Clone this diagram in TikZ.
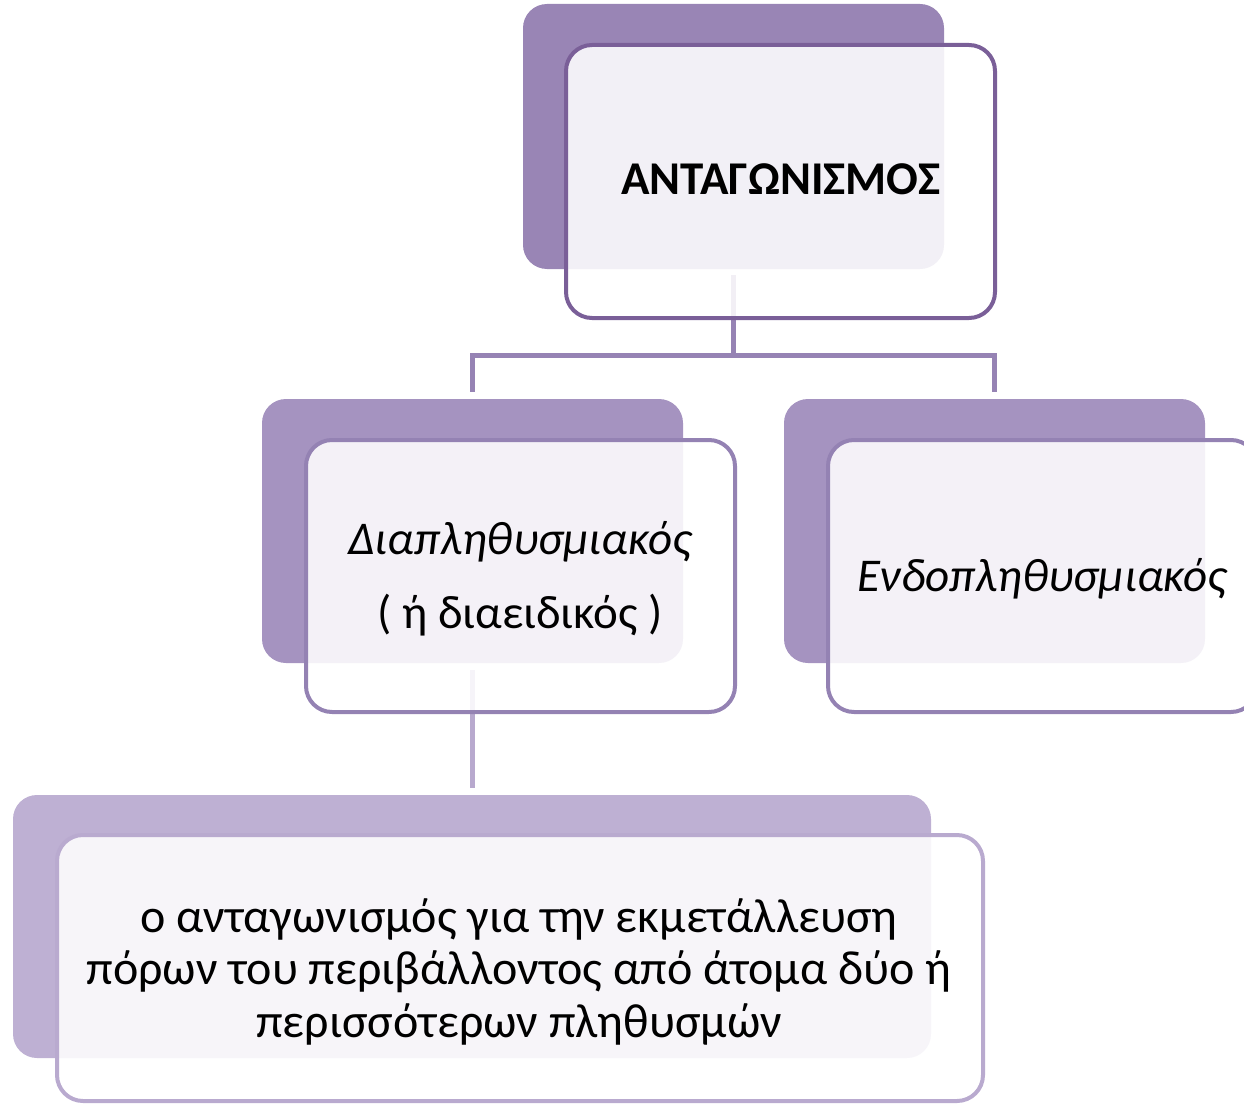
\documentclass[tikz,border=0pt]{standalone}
\usepackage{fontspec}
\setmainfont{Carlito}
\usetikzlibrary{calc}
\definecolor{backA}{HTML}{9985B5}
\definecolor{backB}{HTML}{A593C0}
\definecolor{backC}{HTML}{BEB0D3}
\definecolor{edgeA}{HTML}{7A5F98}
\definecolor{edgeB}{HTML}{9482B3}
\definecolor{edgeC}{HTML}{B9AACF}
\definecolor{connA}{HTML}{9683B4}
\definecolor{connC}{HTML}{B8A9CE}
\tikzset{
  backbox/.style={rectangle, rounded corners=24pt, inner sep=0pt, draw=none},
  frontbox/.style={rectangle, rounded corners=26pt, inner sep=0pt, fill=white, fill opacity=0.88, line width=4pt},
  conn/.style={line width=5pt},
  lbl/.style={inner sep=0pt, anchor=base, text=black},
}
\begin{document}
\begin{tikzpicture}[x=1pt,y=-1pt]
\clip (0,0) rectangle (1244,1105);
\useasboundingbox (0,0) rectangle (1244,1105);
% back boxes
\node[backbox, fill=backA, minimum width=421pt, minimum height=265pt] (topback) at (733.5,136.5) {};
\node[backbox, fill=backB, minimum width=421pt, minimum height=264pt] (lback) at (472.5,531) {};
\node[backbox, fill=backB, minimum width=421pt, minimum height=264pt] (rback) at (994.5,531) {};
\node[backbox, fill=backC, minimum width=918pt, minimum height=263pt] (bback) at (472,926.5) {};
% connectors
\coordinate (bus) at (733.5,355);
\draw[conn, draw=connA] ([yshift=-6pt]topback.south) -- (bus);
\draw[conn, draw=connA] ([yshift=7pt]lback.north) |- (bus) -| ([yshift=7pt]rback.north);
\draw[conn, draw=connC] ([yshift=-7pt]lback.south) -- ([yshift=7pt]lback.south |- bback.north);
% front boxes
\node[frontbox, draw=edgeA, minimum width=429pt, minimum height=273pt] (topfront) at (780.5,181.5) {};
\node[frontbox, draw=edgeB, minimum width=429pt, minimum height=272pt] (lfront) at (520.5,576) {};
\node[frontbox, draw=edgeB, minimum width=429pt, minimum height=272pt] (rfront) at (1042.5,576) {};
\node[frontbox, draw=edgeC, minimum width=926pt, minimum height=266pt] (bfront) at (520,968) {};
% texts
\node[lbl] (t0) at (781,194) {\fontsize{47}{56}\selectfont\bfseries ΑΝΤΑΓΩΝΙΣΜΟΣ};
\node[lbl] (t1) at (520,554) {\fontsize{47}{56}\selectfont\itshape Διαπληθυσμιακός};
\node[lbl] (t2) at (520,628) {\fontsize{47}{56}\selectfont ( ή διαειδικός )};
\node[lbl] (t3) at (1042,591) {\fontsize{47}{56}\selectfont\itshape Ενδοπληθυσμιακός};
\node[lbl] (b1) at (519,932) {\fontsize{48}{57}\selectfont ο ανταγωνισμός για την εκμετάλλευση};
\node[lbl] (b2) at (519,984) {\fontsize{48}{57}\selectfont πόρων του περιβάλλοντος από άτομα δύο ή};
\node[lbl] (b3) at (519,1037) {\fontsize{48}{57}\selectfont περισσότερων πληθυσμών};
\end{tikzpicture}
\end{document}
